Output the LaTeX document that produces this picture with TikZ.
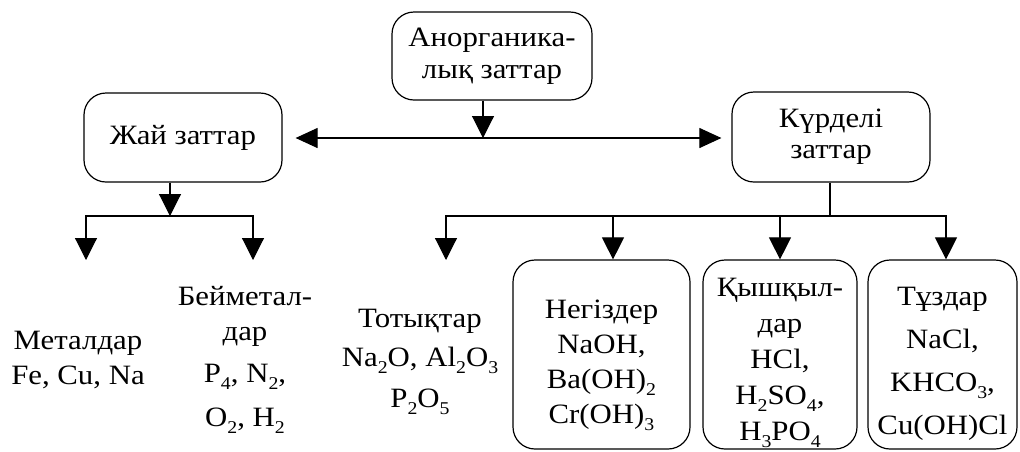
\documentclass[tikz,border=0pt]{standalone}
\usepackage{fontspec}
\setmainfont[FakeStretch=1.1]{Liberation Serif}
\usetikzlibrary{arrows.meta}
\newcommand{\chsub}[1]{\raisebox{-7pt}{\fontsize{18}{18}\selectfont #1}}
\begin{document}
\begin{tikzpicture}[x=1pt,y=1pt,
  every node/.style={font=\fontsize{28}{35}\selectfont, inner sep=0pt},
  rbox/.style={draw, line width=1.2pt, rounded corners=22pt, align=center},
  txt/.style={align=center},
  conn/.style={line width=1.1pt},
  arr/.style={conn, -{Triangle[width=22pt,length=22pt]}},
  darr/.style={conn, {Triangle[width=20pt,length=22pt]}-{Triangle[width=20pt,length=22pt]}},
]
\useasboundingbox (0,0) rectangle (1020,-451);

% boxes
\node[rbox, minimum width=200pt, minimum height=88pt, font=\fontsize{28}{32}\selectfont] (anorg) at (492,-56) {Анорганика-\\лық заттар};
\node[rbox, minimum width=198pt, minimum height=89pt] (jai) at (183,-137.5) {Жай заттар};
\node[rbox, minimum width=198pt, minimum height=90pt, font=\fontsize{28}{31}\selectfont] (kurd) at (831,-137) {Күрделі\\заттар};

\node[rbox, minimum width=177pt, minimum height=189pt] (negiz) at (601.5,-354.5)
  {\rule{0pt}{40pt}Негіздер\\NaOH,\\Ba(OH)\chsub{2}\\Cr(OH)\chsub{3}};
\node[rbox, minimum width=154pt, minimum height=189pt, font=\fontsize{28}{36}\selectfont] (kysh) at (780,-354.5)
  {\rule{0pt}{36pt}Қышқыл-\\дар\\HCl,\\H\chsub{2}SO\chsub{4},\\H\chsub{3}PO\chsub{4}};
\node[rbox, minimum width=149pt, minimum height=189pt] (tuz) at (942.5,-354.5)
  {\rule{0pt}{36pt}Тұздар\\[8pt]NaCl,\\[8pt]KHCO\chsub{3},\\[8pt]Cu(OH)Cl};

% plain text groups
\node[txt] (metal) at (78,-360) {Металдар\\Fe, Cu, Na};
\node[txt] (beim) at (245,-360) {Бейметал-\\дар\\[7pt]P\chsub{4}, N\chsub{2},\\[9pt]O\chsub{2}, H\chsub{2}};
\node[txt] (totyk) at (420,-362) {Тотықтар\\[4pt]Na\chsub{2}O, Al\chsub{2}O\chsub{3}\\[6pt]P\chsub{2}O\chsub{5}};

% junction and end coordinates
\coordinate (tj) at (483,-138);
\coordinate (lj) at (170,-216);
\coordinate (rj) at (830,-216);
\coordinate (metalin) at (86,-260);
\coordinate (beimin) at (253,-260);
\coordinate (totin) at (446,-260);

% connectors
\draw[arr] (anorg.south -| tj) -- (tj);
\draw[darr] ([xshift=13pt]jai.east |- tj) -- ([xshift=-10pt]kurd.west |- tj);

\draw[arr] (jai.south -| lj) -- (lj);
\draw[arr] (lj) -| (metalin);
\draw[arr] (lj) -| (beimin);

\draw[conn] (kurd.south -| rj) -- (rj);
\draw[arr] (rj) -| (totin);
\draw[arr] (rj) -| ([xshift=11.5pt]negiz.north);
\draw[arr] (rj) -| (kysh.north);
\draw[arr] (rj) -| ([xshift=3.5pt]tuz.north);
\end{tikzpicture}
\end{document}
